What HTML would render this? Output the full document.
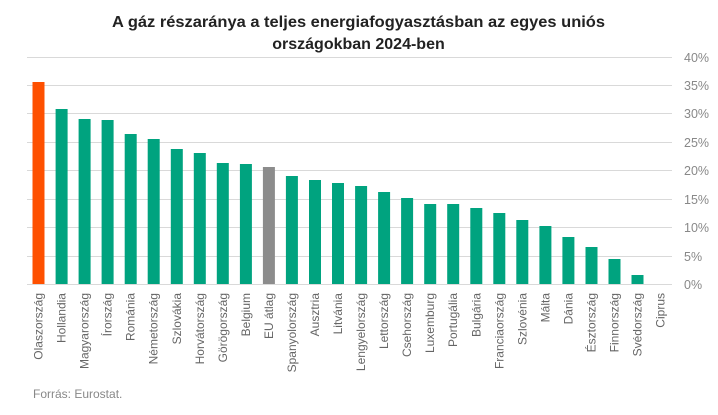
<!DOCTYPE html>
<html><head><meta charset="utf-8"><style>body{margin:0;background:#fff}svg{display:block}</style></head><body>
<svg width="718" height="415" xmlns="http://www.w3.org/2000/svg" font-family="Liberation Sans, sans-serif">
<text x="358.5" y="27" text-anchor="middle" font-size="16" font-weight="bold" fill="#222" textLength="493" lengthAdjust="spacingAndGlyphs">A gáz részaránya a teljes energiafogyasztásban az egyes uniós</text>
<text x="358.5" y="49" text-anchor="middle" font-size="16" font-weight="bold" fill="#222">országokban 2024-ben</text>
<g stroke="#d9d9d9" stroke-width="1">
<line x1="27" x2="672" y1="57.5" y2="57.5"/><line x1="27" x2="672" y1="85.5" y2="85.5"/><line x1="27" x2="672" y1="113.5" y2="113.5"/><line x1="27" x2="672" y1="142.5" y2="142.5"/><line x1="27" x2="672" y1="170.5" y2="170.5"/><line x1="27" x2="672" y1="199.5" y2="199.5"/><line x1="27" x2="672" y1="227.5" y2="227.5"/><line x1="27" x2="672" y1="256.5" y2="256.5"/><line x1="27" x2="672" y1="284.5" y2="284.5"/>
</g>
<g font-size="12.5" fill="#888">
<text x="684" y="62">40%</text><text x="684" y="90">35%</text><text x="684" y="118">30%</text><text x="684" y="147">25%</text><text x="684" y="175">20%</text><text x="684" y="204">15%</text><text x="684" y="232">10%</text><text x="684" y="261">5%</text><text x="684" y="289">0%</text>
</g>
<g fill="#00a37f">
<rect x="32.5" y="82" width="12" height="202" fill="#fe5000"/>
<rect x="55.6" y="109" width="12" height="175"/>
<rect x="78.6" y="119" width="12" height="165"/>
<rect x="101.6" y="120" width="12" height="164"/>
<rect x="124.7" y="134" width="12" height="150"/>
<rect x="147.7" y="139" width="12" height="145"/>
<rect x="170.8" y="149" width="12" height="135"/>
<rect x="193.8" y="153" width="12" height="131"/>
<rect x="216.8" y="163" width="12" height="121"/>
<rect x="239.9" y="164" width="12" height="120"/>
<rect x="262.9" y="167" width="12" height="117" fill="#8c8c8c"/>
<rect x="285.9" y="176" width="12" height="108"/>
<rect x="309.0" y="180" width="12" height="104"/>
<rect x="332.0" y="183" width="12" height="101"/>
<rect x="355.1" y="186" width="12" height="98"/>
<rect x="378.1" y="192" width="12" height="92"/>
<rect x="401.1" y="198" width="12" height="86"/>
<rect x="424.2" y="204" width="12" height="80"/>
<rect x="447.2" y="204" width="12" height="80"/>
<rect x="470.3" y="208" width="12" height="76"/>
<rect x="493.3" y="213" width="12" height="71"/>
<rect x="516.3" y="220" width="12" height="64"/>
<rect x="539.4" y="226" width="12" height="58"/>
<rect x="562.4" y="237" width="12" height="47"/>
<rect x="585.5" y="247" width="12" height="37"/>
<rect x="608.5" y="259" width="12" height="25"/>
<rect x="631.5" y="275" width="12" height="9"/>
</g>
<g font-size="12" fill="#666" text-anchor="end">
<text transform="translate(42.5,293) rotate(-90)">Olaszország</text>
<text transform="translate(65.6,293) rotate(-90)">Hollandia</text>
<text transform="translate(88.6,293) rotate(-90)">Magyarország</text>
<text transform="translate(111.6,293) rotate(-90)">Írország</text>
<text transform="translate(134.7,293) rotate(-90)">Románia</text>
<text transform="translate(157.7,293) rotate(-90)">Németország</text>
<text transform="translate(180.8,293) rotate(-90)">Szlovákia</text>
<text transform="translate(203.8,293) rotate(-90)">Horvátország</text>
<text transform="translate(226.8,293) rotate(-90)">Görögország</text>
<text transform="translate(249.9,293) rotate(-90)">Belgium</text>
<text transform="translate(272.9,293) rotate(-90)">EU átlag</text>
<text transform="translate(295.9,293) rotate(-90)">Spanyolország</text>
<text transform="translate(319.0,293) rotate(-90)">Ausztria</text>
<text transform="translate(342.0,293) rotate(-90)">Litvánia</text>
<text transform="translate(365.1,293) rotate(-90)">Lengyelország</text>
<text transform="translate(388.1,293) rotate(-90)">Lettország</text>
<text transform="translate(411.1,293) rotate(-90)">Csehország</text>
<text transform="translate(434.2,293) rotate(-90)">Luxemburg</text>
<text transform="translate(457.2,293) rotate(-90)">Portugália</text>
<text transform="translate(480.3,293) rotate(-90)">Bulgária</text>
<text transform="translate(503.3,293) rotate(-90)">Franciaország</text>
<text transform="translate(526.3,293) rotate(-90)">Szlovénia</text>
<text transform="translate(549.4,293) rotate(-90)">Málta</text>
<text transform="translate(572.4,293) rotate(-90)">Dánia</text>
<text transform="translate(595.5,293) rotate(-90)">Észtország</text>
<text transform="translate(618.5,293) rotate(-90)">Finnország</text>
<text transform="translate(641.5,293) rotate(-90)">Svédország</text>
<text transform="translate(664.6,293) rotate(-90)">Ciprus</text>
</g>
<text x="33" y="398" font-size="12" fill="#888">Forrás:  Eurostat.</text>
</svg>
</body></html>
